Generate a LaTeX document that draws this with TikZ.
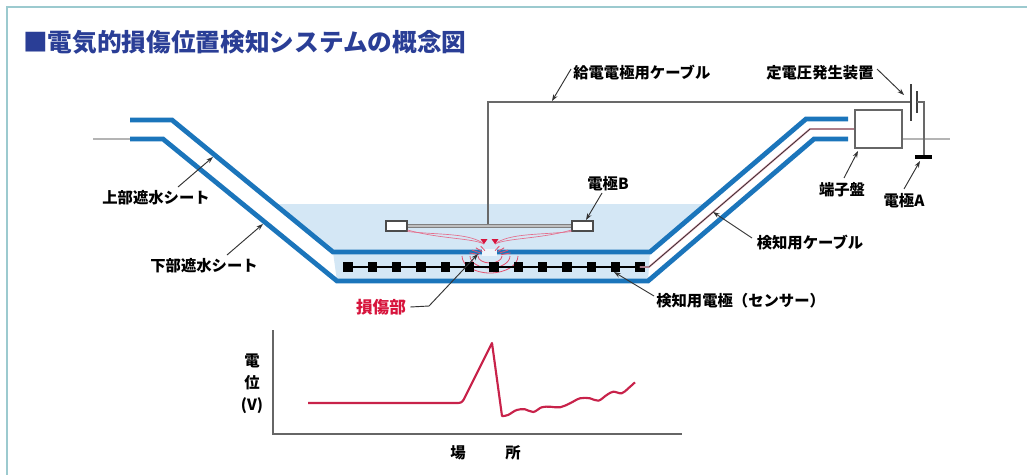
\documentclass[tikz,border=0pt]{standalone}
\usepackage{fontspec}
\setmainfont{Noto Sans CJK JP}
\usetikzlibrary{arrows.meta}
\definecolor{sheetblue}{RGB}{27,117,187}
\definecolor{water}{RGB}{212,231,245}
\definecolor{titleblue}{RGB}{42,62,150}
\definecolor{framecol}{RGB}{156,202,207}
\definecolor{curvered}{RGB}{200,34,74}
\definecolor{dmgred}{RGB}{215,20,60}
\definecolor{fieldpink}{RGB}{228,110,140}
\definecolor{wiregray}{RGB}{105,105,105}
\definecolor{groundgray}{RGB}{180,180,180}
\begin{document}
\begin{tikzpicture}[x=0.75pt,y=-0.75pt,
  sheet/.style={draw=sheetblue,line width=3.6pt,line join=miter},
  lbl/.style={font=\fontsize{11.5}{12}\selectfont\bfseries,inner sep=0pt},
  leader/.style={draw=black!80,line width=0.7pt,-{Stealth[length=5pt,width=3.5pt]}},
  cable/.style={draw=wiregray,line width=1.1pt},
  ground/.style={draw=groundgray,line width=2pt},
  sensorbox/.style={fill=black,minimum size=6.8pt,inner sep=0pt},
  ebox/.style={draw=black!70,fill=white,line width=0.8pt,minimum width=15.75pt,minimum height=7.5pt,inner sep=0pt},
  fieldline/.style={draw=fieldpink,line width=0.5pt},
  ripple/.style={draw=dmgred!75,line width=0.6pt}]
\useasboundingbox (0,0) rectangle (1027,475);
\fill[white] (0,0) rectangle (1027,475);

% frame
\draw[framecol,line width=1.6pt] (6,7) -- (1027,7);
\draw[framecol,line width=1.6pt] (7,7) -- (7,475);

% title
\node[anchor=west,inner sep=0pt,text=titleblue,font=\fontsize{18.5}{20}\selectfont\bfseries] (title) at (23,42) {■電気的損傷位置検知システムの概念図};

% water and fill between sheets
\fill[water] (274,204) -- (333,252) -- (650,252) -- (706,204) -- cycle;
\fill[water] (333,252) -- (337,281) -- (648,281) -- (650,252) -- cycle;

% ground lines
\draw[ground] (93,139) -- (131,139);
\draw[ground] (902,139) -- (950,139);

% sheets
\draw[sheet] (130,120) -- (172,120) -- (333,252) -- (650,252) -- (806,119) -- (848,119);
\draw[sheet] (130,139) -- (163,139) -- (337,281) -- (648,281) -- (814,139) -- (848,139);

% damaged spot in the upper sheet
\fill[white!60!water] (482,248.5) rectangle (497,256);

% ripples around the damage
\foreach \rx/\ry in {12/7,20/12,28/17}
  \draw[ripple] (490+\rx,256) arc[start angle=0,end angle=180,x radius=\rx,y radius=\ry];
\foreach \a in {200,215,230,245,295,310,325,340}
  \draw[ripple] (490,257) ++(\a:12 and 7) -- ++(\a:10 and 5);

% sensor electrodes
\coordinate (sensL) at (343,267);
\coordinate (sensR) at (649,267);
\draw[black,line width=0.9pt] (sensL) -- (640,267);
\foreach \i in {0,...,12}
  \node[sensorbox] (s\i) at (348+24.33*\i,267) {};

% detection cable
\coordinate (dc1) at (810,129);
\draw[fieldpink!60,line width=1.4pt] (s12.center) -- (sensR) -- (dc1) -- (855,129);
\draw[black!80,line width=0.6pt] (s12.center) -- (sensR) -- (dc1) -- (855,129);

% terminal box
\node[draw=black!60,fill=white,line width=0.9pt,minimum width=35.25pt,minimum height=28.5pt,inner sep=0pt] (tb) at (878.5,129) {};

% electrode B
\node[ebox] (eBl) at (396.5,226) {};
\node[ebox] (eBr) at (582.5,226) {};
\draw[black!50,line width=2.6pt] (eBl.east) -- (eBr.west);
\draw[white!75!black,line width=1.2pt] (eBl.east) -- (eBr.west);

% field lines towards the damage
\coordinate (tipL) at (484,244);
\coordinate (tipR) at (495,244);
\draw[fieldline] (eBl.south east) .. controls (440,235) and (470,233) .. (tipL);
\draw[fieldline] (eBl.east) ++(0,4) .. controls (440,239) and (472,238) .. (tipL);
\draw[fieldline] (eBr.south west) .. controls (540,235) and (509,233) .. (tipR);
\draw[fieldline] (eBr.west) ++(0,4) .. controls (540,239) and (507,238) .. (tipR);
\fill[dmgred] (tipL) ++(-3.5,-5) -- ++(7,0) -- (tipL) -- cycle;
\fill[dmgred] (tipR) ++(-3.5,-5) -- ++(7,0) -- (tipR) -- cycle;

% feed cable and constant-voltage source
\coordinate (feed) at (488,224);
\coordinate (batL) at (911,102);
\coordinate (batR) at (917,102);
\coordinate (eA) at (924,157);
\draw[cable] (feed) |- (batL);
\draw[black!75,line width=0.8pt] (911,84) -- (911,121);
\draw[black!75,line width=1.6pt] (917,91) -- (917,113);
\draw[cable] (batR) -| (eA);
\draw[black,line width=2.4pt] (915,157) -- (932,157);

% labels
\node[lbl,anchor=west] (lfeed) at (573,73) {給電電極用ケーブル};
\node[lbl,anchor=west] (lvolt) at (766,73) {定電圧発生装置};
\node[lbl] (ltb) at (842,190) {端子盤};
\node[lbl] (lA) at (904,201) {電極A};
\node[lbl] (lB) at (608,184) {電極B};
\node[lbl] (lup) at (156,198) {上部遮水シート};
\node[lbl] (llow) at (204,266) {下部遮水シート};
\node[lbl] (ldc) at (810,243) {検知用ケーブル};
\node[lbl,anchor=west] (lsens) at (656,301) {検知用電極（センサー）};
\node[lbl,text=dmgred,font=\fontsize{12.5}{13}\selectfont\bfseries] (ldmg) at (381,307) {損傷部};

% leader lines
\coordinate (a1) at (571,69);   \coordinate (b1) at (552,101);
\coordinate (a2) at (877,69);   \coordinate (b2) at (904,95);
\coordinate (a3) at (844,178);  \coordinate (b3) at (858,151);
\coordinate (a4) at (904,189);  \coordinate (b4) at (920,161);
\coordinate (a5) at (602,193);  \coordinate (b5) at (586,220);
\coordinate (a6) at (178,187);  \coordinate (b6) at (213,157);
\coordinate (a7) at (227,255);  \coordinate (b7) at (263,224);
\coordinate (a8) at (752,238);  \coordinate (b8) at (713,212);
\coordinate (a9) at (654,296);  \coordinate (b9) at (614,272);
\coordinate (c10) at (429,306); \coordinate (b10) at (478,254);
\draw[leader] (a1) -- (b1);
\draw[leader] (a2) -- (b2);
\draw[leader] (a3) -- (b3);
\draw[leader] (a4) -- (b4);
\draw[leader] (a5) -- (b5);
\draw[leader] (a6) -- (b6);
\draw[leader] (a7) -- (b7);
\draw[leader] (a8) -- (b8);
\draw[leader] (a9) -- (b9);
\draw[leader] ([xshift=3pt]ldmg.east) -- (c10) -- (b10);

% potential graph
\coordinate (org) at (273,434);
\draw[black!60,line width=1.2pt] (273,330) -- (org) -- (682,434);
\node[lbl] (gy1) at (252,361) {電};
\node[lbl] (gy2) at (252,383) {位};
\node[lbl] (gy3) at (252,406) {(V)};
\node[lbl] (gx1) at (458,453) {場};
\node[lbl] (gx2) at (513,453) {所};
\draw[curvered,line width=1.6pt,line join=round]
  (308,403) -- (458,403) .. controls (462,403) and (463,401) .. (465,397)
  -- (492,343) -- (502,416)
  -- plot[smooth,tension=0.6] coordinates {(503,416) (508,415) (516.7,410) (525,409.3) (533.3,412) (541.7,407.3) (550,406.7) (560,407.3) (570,403.3) (580,398.3) (590,398.3) (598.3,400.7) (606.7,395) (613.3,391.7) (621.7,393.3) (628.3,388.3) (635,382.3)};
\end{tikzpicture}
\end{document}
